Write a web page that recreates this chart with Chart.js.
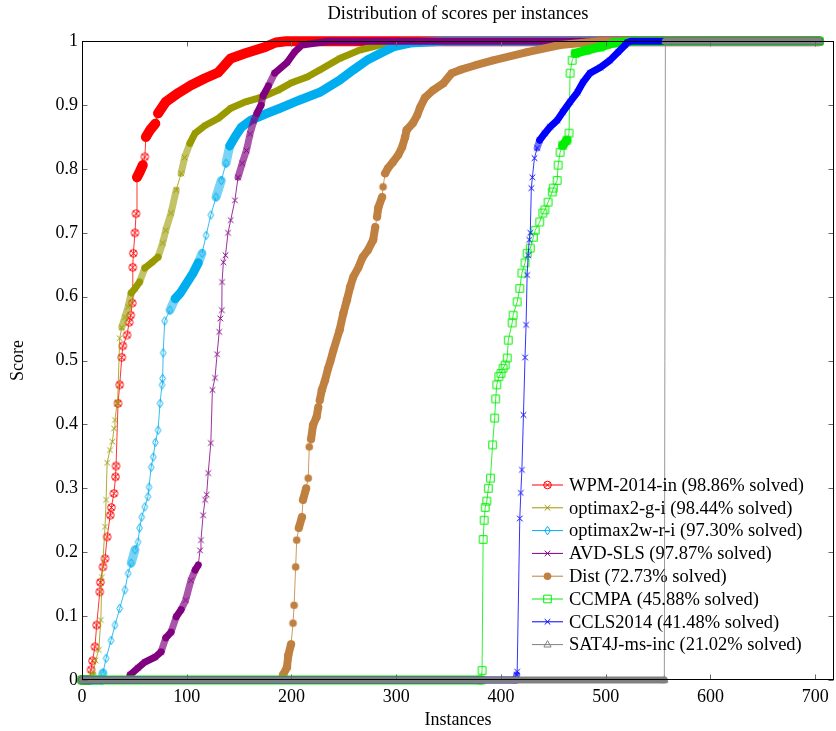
<!DOCTYPE html>
<html>
<head>
<meta charset="utf-8">
<title>Distribution of scores per instances</title>
<script src="https://cdn.jsdelivr.net/npm/chart.js@4.4.1/dist/chart.umd.min.js"></script>
<style>
  html, body { margin: 0; padding: 0; background: #fff; }
  #wrap { width: 836px; height: 731px; }
</style>
</head>
<body>
<div id="wrap"><canvas id="scoreChart" width="836" height="731"></canvas></div>
<script>
const FONT = "'Liberation Serif', 'Times New Roman', serif";

// solvers, in drawing order
const seriesNames = ['WPM-2014-in', 'optimax2-g-i', 'optimax2w-r-i', 'AVD-SLS', 'Dist', 'CCMPA', 'CCLS2014', 'SAT4J-ms-inc'];
const solvedPct = [98.86, 98.44, 97.30, 97.87, 72.73, 45.88, 41.48, 21.02];
const seriesColors = ['#ff0000', '#999900', '#00aeef', '#800080', '#bf8040', '#00ee00', '#0000ff', '#808080'];
const seriesMarkers = ['otimes', 'x', 'diamond', 'x', 'dot', 'square', 'x', 'triangle'];
const bandWidths = [10, 7, 9, 7, 8, 9, 7, 7];
// pixel slope below which marks merge into a solid band / a loose band
const fullSlope = [2.5, 2, 2, 2, 4, 1.5, 2, 2];
const looseSlope = [0, 4, 3.5, 4.5, 4.5, 0, 4, 0];
const looseAlpha = ['88', '99', '88', 'aa', 'ff', '88', '88', '88'];

// sorted scores: [instance, score]
const wpmPoints = [[0,0],[7,0],[8.6,0.016],[10,0.03],[12.4,0.052],[14,0.086],[17,0.138],[17.5,0.153],[20,0.177],[22,0.19],[24,0.224],[27,0.258],[28,0.27],[30.5,0.292],[32,0.318],[32.5,0.335],[34.4,0.433],[36,0.462],[38,0.505],[39,0.523],[43,0.54],[45,0.56],[46.5,0.571],[48,0.59],[48.5,0.646],[49,0.668],[50.6,0.7],[51.6,0.73],[52.5,0.787],[55,0.795],[58,0.806],[60,0.819],[61,0.85],[65,0.861],[70,0.871],[72.6,0.887],[80,0.905],[92,0.919],[104,0.931],[117.5,0.942],[130,0.951],[142,0.973],[156,0.981],[175,0.991],[185,0.998],[195,1],[704,1]];
const optimaxGPoints = [[0,0],[9,0],[10.5,0.008],[13,0.031],[16,0.047],[18,0.094],[19,0.161],[22,0.24],[23,0.282],[24,0.34],[26.7,0.36],[29,0.373],[30.6,0.394],[31.5,0.407],[33.4,0.433],[34,0.435],[36,0.535],[38,0.552],[41,0.568],[44,0.584],[47,0.606],[50.6,0.613],[55,0.623],[60,0.645],[67,0.654],[72.6,0.662],[77,0.684],[80,0.704],[85,0.731],[90,0.767],[94.6,0.793],[98,0.818],[103,0.84],[108,0.856],[117.5,0.868],[130,0.879],[142,0.895],[156,0.905],[171,0.912],[187,0.923],[200,0.935],[215,0.944],[227,0.955],[246,0.973],[265,0.986],[284,0.994],[297,0.998],[305,1],[704,1]];
const optimaxWPoints = [[0,0],[19,0],[20,0.011],[23,0.034],[27.7,0.062],[31.5,0.086],[36,0.112],[41,0.141],[44,0.167],[47,0.183],[50.6,0.204],[53.5,0.216],[55,0.238],[57,0.255],[60,0.271],[63,0.287],[64,0.302],[66,0.333],[68,0.349],[70,0.372],[72.6,0.391],[74.5,0.433],[76.4,0.462],[77,0.472],[77.5,0.512],[79,0.562],[84,0.579],[89,0.597],[94,0.606],[101,0.624],[106,0.637],[111,0.653],[114.6,0.668],[118.5,0.696],[123,0.728],[128,0.756],[133,0.782],[137.5,0.809],[141,0.836],[146,0.85],[152,0.865],[161,0.876],[175,0.886],[189,0.895],[208,0.908],[227,0.92],[246,0.939],[259,0.955],[272,0.97],[285,0.981],[297,0.991],[313,0.997],[335,0.999],[345,1],[704,1]];
const avdPoints = [[0,0],[45,0],[46,0.008],[53.5,0.019],[60,0.028],[70,0.036],[75.5,0.044],[80,0.066],[85,0.075],[90,0.099],[94.6,0.11],[99,0.125],[104,0.156],[108,0.172],[111,0.18],[112.7,0.203],[113.6,0.219],[115.6,0.258],[117.5,0.282],[119,0.29],[120.5,0.324],[123,0.371],[124.5,0.454],[127,0.473],[129,0.51],[131,0.545],[132,0.566],[133.5,0.579],[133.7,0.623],[135,0.654],[137,0.665],[139.4,0.7],[142,0.72],[146,0.751],[149,0.787],[153,0.809],[157,0.829],[160.5,0.855],[164,0.875],[167,0.887],[171,0.9],[173,0.915],[178,0.93],[184,0.95],[196,0.967],[203,0.983],[210,0.994],[227,0.998],[235,1],[704,1]];
const distPoints = [[0,0],[191,0],[192,0.008],[195.7,0.02],[197,0.039],[199.6,0.056],[201.5,0.089],[202.5,0.117],[204,0.177],[205,0.219],[207,0.238],[210,0.255],[211,0.282],[214,0.3],[216,0.316],[217,0.365],[218.7,0.377],[220.6,0.399],[224,0.412],[225.6,0.427],[227,0.438],[229,0.454],[232,0.469],[235,0.488],[237,0.498],[240,0.516],[246,0.548],[249.5,0.574],[253,0.595],[256,0.615],[259,0.631],[264,0.646],[268,0.662],[273,0.673],[278,0.689],[280,0.709],[281.7,0.725],[283,0.74],[286.5,0.756],[287.5,0.772],[289.4,0.793],[292,0.801],[297,0.811],[302,0.822],[305.6,0.834],[308.5,0.85],[310,0.861],[316,0.872],[320,0.884],[323,0.897],[327.6,0.912],[335,0.923],[345,0.934],[353,0.95],[361,0.955],[375,0.962],[392.5,0.97],[425,0.983],[456.5,0.994],[482,0.998],[495,1],[704,1]];
const ccmpaPoints = [[0,0],[381,0],[382,0.015],[383,0.22],[384,0.25],[385,0.27],[386.5,0.28],[388,0.3],[390,0.316],[392,0.368],[394,0.41],[395,0.44],[396,0.462],[398,0.475],[400,0.48],[402,0.488],[404,0.493],[406,0.504],[407,0.532],[410.7,0.559],[411.6,0.571],[415.5,0.592],[418,0.613],[420,0.637],[423,0.653],[425,0.668],[428,0.676],[431,0.693],[432.7,0.704],[437,0.717],[440,0.731],[442,0.736],[445,0.748],[449,0.764],[450,0.77],[453.7,0.782],[454.6,0.806],[456.5,0.826],[459,0.837],[463,0.845],[465,0.856],[466,0.95],[468,0.97],[471,0.981],[482,0.986],[495,0.991],[507,0.997],[520,0.999],[528,1],[704,1]];
const cclsPoints = [[0,0],[414,0],[415,0.008],[415.5,0.013],[418,0.253],[419,0.293],[420,0.329],[421.5,0.415],[423,0.505],[424,0.556],[425,0.634],[426,0.665],[427,0.689],[428,0.7],[429,0.77],[430,0.787],[432,0.817],[434.6,0.833],[437,0.845],[442,0.856],[447,0.866],[453.7,0.876],[459,0.889],[466,0.905],[473,0.92],[478.5,0.936],[485,0.95],[495,0.959],[504,0.97],[512,0.983],[518.6,0.994],[520.5,0.998],[525,1],[704,1]];
const sat4jPoints = [[0,0],[556,0],[557,1],[704,1]];

const seriesPoints = [wpmPoints, optimaxGPoints, optimaxWPoints, avdPoints, distPoints, ccmpaPoints, cclsPoints, sat4jPoints];

const xTicks = [0, 100, 200, 300, 400, 500, 600, 700];
const yTicks = [0, 0.1, 0.2, 0.3, 0.4, 0.5, 0.6, 0.7, 0.8, 0.9, 1];
const yTickLabels = ['0', '0.1', '0.2', '0.3', '0.4', '0.5', '0.6', '0.7', '0.8', '0.9', '1'];

// pgfplots-like marks
function drawMarker(ctx, kind, x, y, color) {
    ctx.save();
    ctx.strokeStyle = color;
    ctx.fillStyle = color;
    ctx.lineWidth = 1;
    ctx.beginPath();
    if (kind === 'otimes') {
        ctx.arc(x, y, 3.8, 0, Math.PI * 2);
        const d = 2.7;
        ctx.moveTo(x - d, y - d); ctx.lineTo(x + d, y + d);
        ctx.moveTo(x - d, y + d); ctx.lineTo(x + d, y - d);
        ctx.stroke();
    } else if (kind === 'x') {
        const d = 2.8;
        ctx.moveTo(x - d, y - d); ctx.lineTo(x + d, y + d);
        ctx.moveTo(x - d, y + d); ctx.lineTo(x + d, y - d);
        ctx.stroke();
    } else if (kind === 'diamond') {
        ctx.moveTo(x, y - 4.3); ctx.lineTo(x + 2.8, y); ctx.lineTo(x, y + 4.3); ctx.lineTo(x - 2.8, y);
        ctx.closePath();
        ctx.stroke();
    } else if (kind === 'dot') {
        ctx.arc(x, y, 3.8, 0, Math.PI * 2);
        ctx.fill();
    } else if (kind === 'square') {
        ctx.rect(x - 3.8, y - 3.8, 7.6, 7.6);
        ctx.stroke();
    } else if (kind === 'triangle') {
        ctx.moveTo(x, y - 4); ctx.lineTo(x + 3.6, y + 2.4); ctx.lineTo(x - 3.6, y + 2.4);
        ctx.closePath();
        ctx.stroke();
    }
    ctx.restore();
}

function markerImage(kind, color) {
    const c = document.createElement('canvas');
    c.width = 13;
    c.height = 13;
    drawMarker(c.getContext('2d'), kind, 6.5, 6.5, color);
    return c;
}

function pixelSlope(a, b) {
    return Math.abs(b.y - a.y) / Math.max(Math.abs(b.x - a.x), 0.01);
}

// 2: marks pile into a solid band, 1: loose band, 0: single marks on a thin line
function bandLevel(ctx, i) {
    const local = pixelSlope(ctx.p0, ctx.p1);
    if (local <= fullSlope[i]) return 2;
    const pts = ctx.chart.getDatasetMeta(i).data;
    const a = pts[Math.max(ctx.p0DataIndex - 1, 0)];
    const b = pts[Math.min(ctx.p1DataIndex + 1, pts.length - 1)];
    const wide = a && b ? pixelSlope(a, b) : local;
    if (wide <= looseSlope[i] && local <= 3 * looseSlope[i]) return 1;
    return 0;
}

const datasets = seriesNames.map((name, i) => ({
    label: `${name} (${solvedPct[i].toFixed(2)}% solved)`,
    data: seriesPoints[i].map(([x, y]) => ({ x, y })),
    borderColor: seriesColors[i],
    borderWidth: 1,
    borderCapStyle: 'round',
    borderJoinStyle: 'round',
    pointStyle: markerImage(seriesMarkers[i], seriesColors[i]),
    pointRadius: 4,
    pointHoverRadius: 4,
    tension: 0,
    fill: false,
    clip: 10,
    order: seriesNames.length - 1 - i,
    segment: {
        borderWidth: ctx => bandLevel(ctx, i) > 0 ? bandWidths[i] : 1,
        borderColor: ctx => {
            const lvl = bandLevel(ctx, i);
            if (lvl === 2) return seriesColors[i];
            if (lvl === 1) return seriesColors[i] + looseAlpha[i];
            return seriesColors[i] + 'cc';
        }
    }
}));

// frame, inward ticks on all four sides and the legend inside the plot
const framePlugin = {
    id: 'frame',
    afterDatasetsDraw(chart, args, opts) {
        const { ctx, chartArea: a, scales } = chart;
        const L = Math.round(a.left) + 0.5, R = Math.round(a.right) - 0.5;
        const T = Math.round(a.top) + 0.5, B = Math.round(a.bottom) - 0.5;
        ctx.save();
        ctx.strokeStyle = '#666';
        ctx.lineWidth = 1;
        ctx.beginPath();
        xTicks.forEach(v => {
            const px = Math.round(scales.x.getPixelForValue(v)) + 0.5;
            ctx.moveTo(px, B); ctx.lineTo(px, B - 5);
            ctx.moveTo(px, T); ctx.lineTo(px, T + 5);
        });
        yTicks.forEach(v => {
            const py = Math.round(scales.y.getPixelForValue(v)) + 0.5;
            ctx.moveTo(L, py); ctx.lineTo(L + 5, py);
            ctx.moveTo(R, py); ctx.lineTo(R - 5, py);
        });
        ctx.stroke();
        ctx.strokeStyle = '#000';
        ctx.strokeRect(L, T, R - L, B - T);

        // legend
        ctx.font = `${opts.fontSize}px ${FONT}`;
        ctx.textBaseline = 'middle';
        ctx.textAlign = 'left';
        chart.data.datasets.forEach((ds, i) => {
            const y = opts.y + i * opts.rowHeight;
            ctx.strokeStyle = seriesColors[i];
            ctx.beginPath();
            ctx.moveTo(opts.x, y);
            ctx.lineTo(opts.x + opts.lineLength, y);
            ctx.stroke();
            drawMarker(ctx, seriesMarkers[i], opts.x + opts.lineLength / 2, y, seriesColors[i]);
            ctx.fillStyle = '#000';
            ctx.fillText(ds.label, opts.x + opts.lineLength + 6, y + 1);
        });
        ctx.restore();
    }
};

new Chart(document.getElementById('scoreChart'), {
    type: 'line',
    data: { datasets },
    plugins: [framePlugin],
    options: {
        responsive: false,
        animation: false,
        events: [],
        layout: { autoPadding: false, padding: { left: 0, right: 2, top: 0, bottom: 0 } },
        scales: {
            x: {
                type: 'linear',
                min: 0,
                max: 718,
                grid: { display: false, drawTicks: false },
                border: { display: false },
                afterBuildTicks: s => { s.ticks = xTicks.map(v => ({ value: v })); },
                ticks: {
                    padding: 6,
                    color: '#000',
                    maxRotation: 0,
                    font: { family: FONT, size: 18 },
                    callback: v => String(v)
                },
                title: {
                    display: true,
                    text: 'Instances',
                    color: '#000',
                    font: { family: FONT, size: 18 },
                    padding: { top: 0, bottom: 0 }
                },
                afterFit: s => {
                    s.height = 51;
                    s.paddingLeft = 0;
                    s.paddingRight = 0;
                }
            },
            y: {
                type: 'linear',
                min: 0,
                max: 1,
                grid: { display: false, drawTicks: false },
                border: { display: false },
                afterBuildTicks: s => { s.ticks = yTicks.map(v => ({ value: v })); },
                ticks: {
                    padding: 4,
                    color: '#000',
                    font: { family: FONT, size: 18 },
                    callback: (v, i) => yTickLabels[i]
                },
                title: {
                    display: true,
                    text: 'Score',
                    color: '#000',
                    font: { family: FONT, size: 18 },
                    padding: { top: 7, bottom: 0 }
                },
                afterFit: s => { s.width = 82; }
            }
        },
        plugins: {
            legend: { display: false },
            tooltip: { enabled: false },
            title: {
                display: true,
                fullSize: false,
                text: 'Distribution of scores per instances',
                color: '#000',
                font: { family: FONT, size: 18.5, weight: 'normal' },
                padding: { top: 3, bottom: 16 }
            },
            frame: { x: 532, y: 485, rowHeight: 22.8, lineLength: 31, fontSize: 18.5 }
        }
    }
});
</script>
</body>
</html>
